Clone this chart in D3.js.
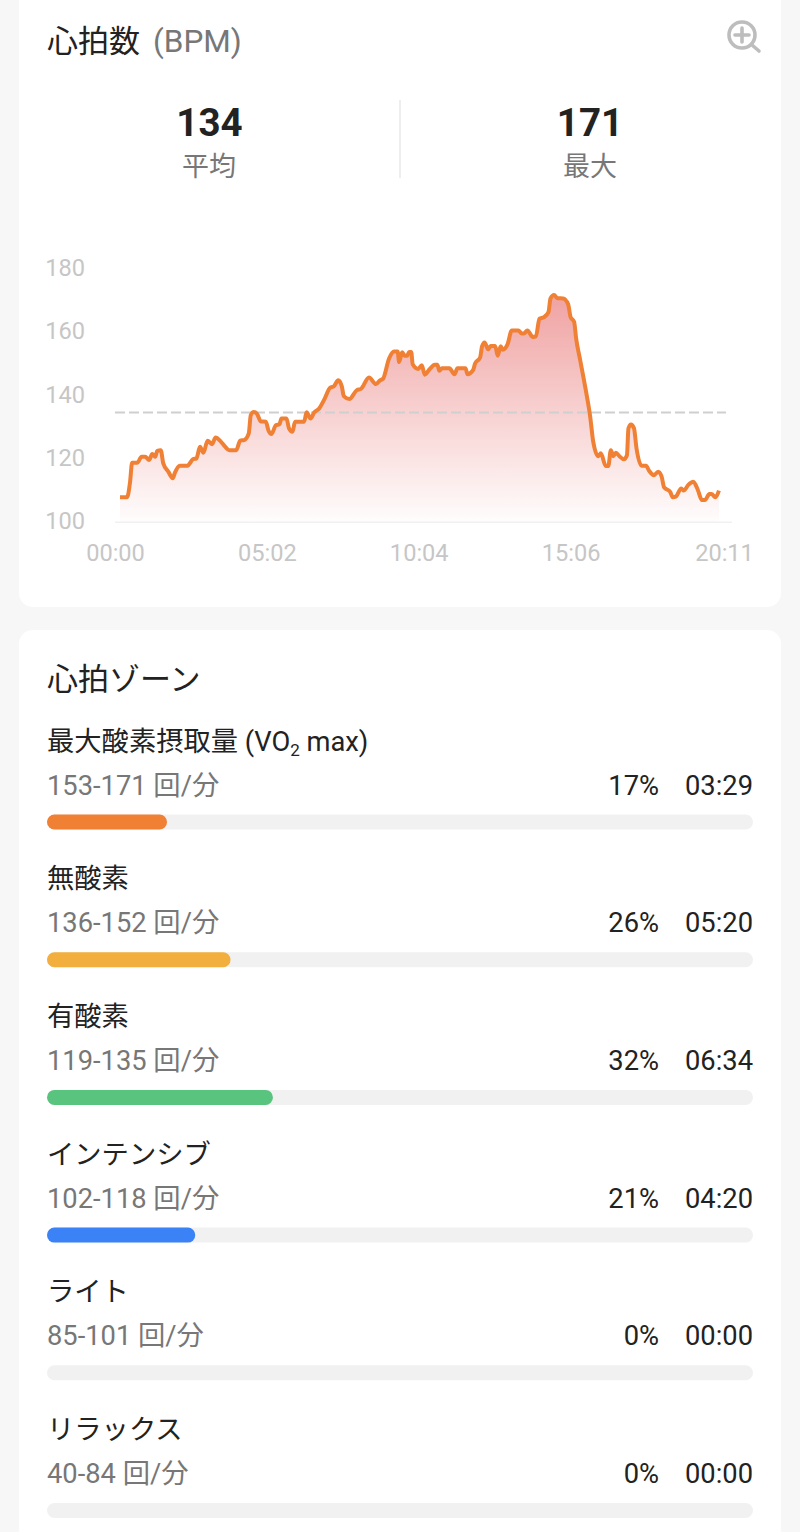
<!DOCTYPE html>
<html><head><meta charset="utf-8">
<script src="https://cdnjs.cloudflare.com/ajax/libs/d3/7.8.5/d3.min.js"></script>
<style>
html,body{margin:0;padding:0;background:#f7f7f7;overflow:hidden}
svg{display:block}
text{font-family:Roboto,"Noto Sans CJK JP",sans-serif}
</style></head><body><svg id="c" width="800" height="1532"></svg>
<script>
const seconds=[10,24,30,34,44,53,60,68,74,80,84,91,96,106,115,119,129,144,155,162,169,176,184,193,200,210,219,227,241,249,257,266,270,276,282,290,300,305,311,320,327,331,341,346,353,358,376,381,389,396,406,416,428,435,444,451,455,466,481,489,505,519,527,533,545,555,562,565,571,576,581,585,589,592,603,610,616,626,636,641,645,650,665,675,681,697,701,712,716,726,730,735,742,747,756,761,767,771,781,789,802,809,813,820,831,837,844,853,862,866,873,880,891,901,906,913,917,925,935,945,951,961,966,976,981,986,991,996,1003,1012,1018,1021,1026,1032,1037,1047,1056,1062,1072,1080,1087,1092,1104,1109,1115,1126,1131,1140,1150,1159,1167,1173,1182,1186,1194,1201];
const bpm=[107.2,107.2,112.1,118.1,118.1,120,120,119,120.9,120,121.9,122.1,117.9,115.3,113.2,114.9,117.2,117.2,119.2,119.5,123.2,121.3,125.1,124,126.1,124.9,123.2,122.1,122.1,125.1,125.3,127.4,133.2,134.2,133.7,131.2,131.1,128.4,127.2,130,130.3,132.1,132.1,129,127.9,131.1,131.1,134.1,132.1,134,135.3,138.1,141.9,142.3,144.2,142.3,139.2,138.3,141.1,141.5,145.1,143,144.2,144.7,151.1,153.3,153.3,150,153.1,152,152,153.2,153.2,149.3,147.8,149,146,147.8,149.1,149.1,147.2,148,148,146.1,148,148,146.1,147.4,149.5,151.4,155,156.2,154,155.1,155.1,152,155,153.9,155.8,160,160,159,159,160,157.9,158.1,163.7,164.2,165.8,170.1,171.2,170.2,170.1,168.3,164.2,162.7,157.4,150.6,142.1,132.6,124.7,120.2,121.1,117.1,117.1,122.1,120.2,121.3,120.2,119.2,120.5,129,130.2,129,122.7,117.2,117.2,115.6,114.2,115.3,113.7,110.3,108.9,107.2,107.4,110,109.3,111.1,112.1,109.5,106.3,106.3,108.2,108.2,107.2,109.3];
const averageBpm=134, maxBpm=171;
const yTicks=[100,120,140,160,180];
const xTicks=[0,302,604,906,1211];
const zoneNames=["最大酸素摂取量","無酸素","有酸素","インテンシブ","ライト","リラックス"];
const zoneRanges=["153-171 回/分","136-152 回/分","119-135 回/分","102-118 回/分","85-101 回/分","40-84 回/分"];
const zonePercents=[17,26,32,21,0,0];
const zoneTimes=["03:29","05:20","06:34","04:20","00:00","00:00"];
const zoneColors=["#EF8034","#F3AF3D","#58C47E","#3B82F6","#F1F1F1","#F1F1F1"];

const svg=d3.select("#c");
const dark="#222", mid="#777", tick="#c6c6c6";
const T=(x,y,s,size,fill,anchor,weight)=>svg.append("text").attr("x",x).attr("y",y).text(s)
  .attr("font-size",size).attr("fill",fill).attr("text-anchor",anchor||"start").attr("font-weight",weight||400);

// cards
svg.append("rect").attr("x",19).attr("y",-19).attr("width",762).attr("height",626).attr("rx",14).attr("fill","#fff");
svg.append("rect").attr("x",19).attr("y",630).attr("width",762).attr("height",940).attr("rx",14).attr("fill","#fff");

// header
T(47,52,"心拍数",31,dark);
T(153,52,"(BPM)",31.5,mid);
const ic=svg.append("g").attr("fill","none").attr("stroke","#bdbdbd").attr("stroke-width",3.6).attr("stroke-linecap","round");
ic.append("circle").attr("cx",742).attr("cy",35).attr("r",13);
ic.append("path").attr("d","M735 35H749M742 28V42M752 45L759 51");

// stats
T(209.5,136,averageBpm,38.5,dark,"middle",700);
T(590,136,maxBpm,38.5,dark,"middle",700);
T(209,176,"平均",27,mid,"middle");
T(590,176,"最大",27,mid,"middle");
svg.append("line").attr("x1",400).attr("x2",400).attr("y1",100).attr("y2",178).attr("stroke","#eeeeee").attr("stroke-width",2);

// chart
const x=d3.scaleLinear().domain([0,1211]).range([115,724]);
const y=d3.scaleLinear().domain([100,180]).range([520,267.2]);
const pts=seconds.map((s,i)=>[s,bpm[i]]);
const grad=svg.append("defs").append("linearGradient").attr("id","g").attr("gradientUnits","userSpaceOnUse")
  .attr("x1",0).attr("x2",0).attr("y1",y(171.2)).attr("y2",y(99));
grad.append("stop").attr("offset",0).attr("stop-color","#F0A2A2");
grad.append("stop").attr("offset",1).attr("stop-color","#F0A2A2").attr("stop-opacity",0.02);
svg.append("path").attr("fill","url(#g)").attr("d",d3.area().x(d=>x(d[0])).y0(y(99.3)).y1(d=>y(d[1])).curve(d3.curveMonotoneX)(pts));

const yAxis=svg.append("g").attr("transform","translate(85,1)").call(d3.axisLeft(y).tickValues(yTicks).tickSize(0).tickPadding(0));
const fmt=s=>d3.format("02")(Math.floor(s/60))+":"+d3.format("02")(s%60);
const xAxis=svg.append("g").attr("transform","translate(0,"+y(99.3)+")").call(d3.axisBottom(x).tickValues(xTicks).tickFormat(fmt).tickSize(0).tickPadding(22));
yAxis.select(".domain").remove(); xAxis.select(".domain").remove();
svg.selectAll(".tick text").attr("font-size",23.6).attr("fill",tick).attr("font-family",'Roboto,sans-serif');
svg.append("line").attr("x1",x(0)).attr("x2",732).attr("y1",y(99.3)).attr("y2",y(99.3)).attr("stroke","#f1f1f1").attr("stroke-width",1.5);
svg.append("line").attr("x1",x(0)).attr("x2",726).attr("y1",y(averageBpm)).attr("y2",y(averageBpm))
  .attr("stroke","#cfcfcf").attr("stroke-width",2).attr("stroke-dasharray","10 4");
svg.append("path").attr("fill","none").attr("stroke","#EF8034").attr("stroke-width",4).attr("stroke-linejoin","round")
  .attr("d",d3.line().x(d=>x(d[0])).y(d=>y(d[1])).curve(d3.curveMonotoneX)(pts));

// zones
T(47,690,"心拍ゾーン",31,dark);
const bx=d3.scaleLinear().domain([0,100]).range([47,753]);
const rowY=d3.scaleLinear().domain([0,5]).range([0,688.5]);
zoneNames.forEach((n,i)=>{
  const r=rowY(i);
  const t=T(47,750.5+r,n,27.3,dark);
  if(i===0){
    t.append("tspan").text(" (VO");
    t.append("tspan").text("2").attr("font-size",17).attr("dy",5);
    t.append("tspan").text(" max)").attr("dy",-5);
  }
  T(47,794.5+r,zoneRanges[i],27.3,mid);
  T(659,794.5+r,zonePercents[i]+"%",27.3,dark,"end");
  T(753,794.5+r,zoneTimes[i],27.3,dark,"end");
  svg.append("rect").attr("x",bx(0)).attr("y",814.5+r).attr("width",bx(100)-bx(0)).attr("height",15).attr("rx",7.5).attr("fill","#F1F1F1");
  if(zonePercents[i]>0) svg.append("rect").attr("x",bx(0)).attr("y",814.5+r).attr("width",bx(zonePercents[i])-bx(0)).attr("height",15).attr("rx",7.5).attr("fill",zoneColors[i]);
});
</script></body></html>
